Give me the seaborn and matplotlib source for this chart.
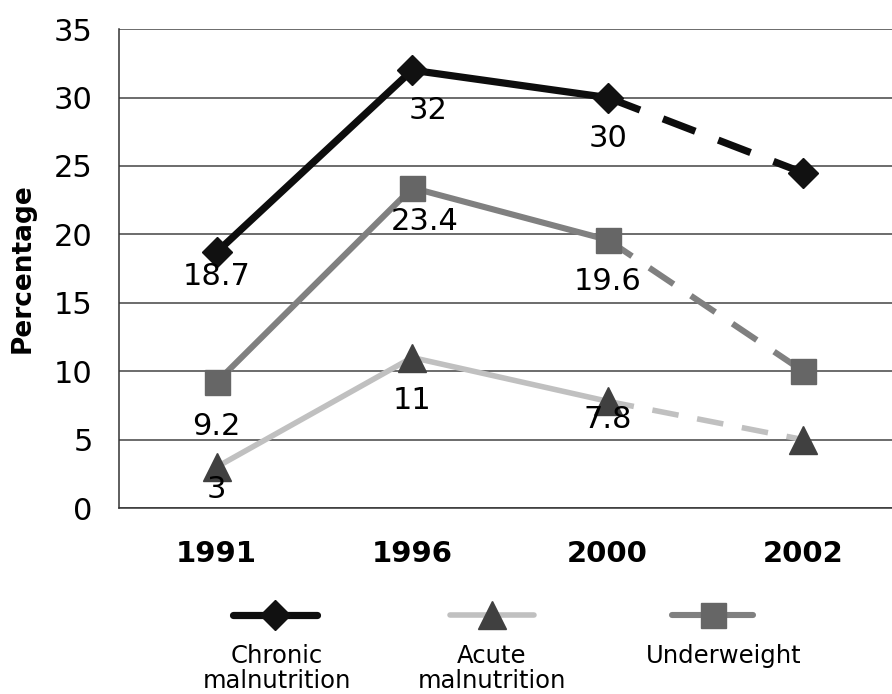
import pandas as pd
import matplotlib.pyplot as plt
import seaborn as sns
from matplotlib.lines import Line2D

years = ['1991', '1996', '2000', '2002']
chronic = [18.7, 32, 30, 24.5]
acute = [3, 11, 7.8, 5]
underweight = [9.2, 23.4, 19.6, 10]

series_names = ['Chronic\nmalnutrition', 'Acute\nmalnutrition', 'Underweight']
series_values = [chronic, acute, underweight]
line_colors = ['#0d0d0d', '#c0c0c0', '#808080']
marker_colors = ['#111111', '#404040', '#666666']
line_widths = [5.2, 4.0, 4.4]
markers = ['D', '^', 's']
marker_sizes = [15, 20, 18]
# label offsets in pixels; the last year is drawn dashed and carries no label
label_dx = [[0, 16, 0], [0, 0, 0], [0, 12, 0]]
label_dy = [[-24, -40, -41], [-23, -43, -18], [-44, -34, -42]]

sns.set_style('white')
plt.rcParams['font.family'] = ['DejaVu Sans']
plt.rcParams.update({'text.color': 'black', 'axes.labelcolor': 'black',
                     'xtick.color': 'black', 'ytick.color': 'black'})

fig = plt.figure(figsize=(8.92, 6.94), dpi=100)
ax = fig.add_axes([0.1334, 0.268, 0.87, 0.69])

for vals, lc, mc, lw, mk, ms, dxs, dys in zip(series_values, line_colors, marker_colors, line_widths,
                                                markers, marker_sizes, label_dx, label_dy):
    df = pd.DataFrame({'x': range(len(years)), 'y': vals})
    sns.lineplot(data=df.iloc[:3], x='x', y='y', color=lc, lw=lw, ax=ax, zorder=3)
    dashed = sns.lineplot(data=df.iloc[2:], x='x', y='y', color=lc, lw=lw, ax=ax, zorder=3)
    dashed.lines[-1].set_dashes((4.8, 3.4))
    ax.plot(df['x'], df['y'], ls='none', marker=mk, ms=ms, color=mc, zorder=4)
    for i in range(3):
        ax.annotate(f'{vals[i]:g}', (i, vals[i]), xytext=(dxs[i], dys[i]), textcoords='offset pixels',
                    ha='center', va='center', fontsize=22, zorder=5)

ax.set_ylim(0, 35)
ax.set_xlim(-0.5, 3.47)
ax.set_yticks(range(0, 36, 5))
ax.set_xticks(range(len(years)))
ax.set_xticklabels(years, fontsize=21, fontweight='bold')
ax.set_xticks([0.5, 1.5, 2.5], minor=True)
ax.tick_params(axis='x', which='major', length=0, pad=23)
ax.tick_params(axis='x', which='minor', length=8, width=1, color='#333333', direction='out')
ax.tick_params(axis='y', labelsize=22, length=8, width=1, color='#333333', direction='out', pad=11)
ax.grid(axis='y', color='#444444', lw=1.1)
ax.set_axisbelow(True)
for s in ['top', 'right']:
    ax.spines[s].set_visible(False)
for s in ['left', 'bottom']:
    ax.spines[s].set_color('#333333')
    ax.spines[s].set_linewidth(1.1)
ax.set_xlabel('')
ax.set_ylabel('Percentage', fontsize=19, fontweight='bold')
ax.yaxis.set_label_coords(-0.108, 0.5)

# legend laid out by hand: handle above, text below
W, H = 892, 694
leg_x = [(233, 317), (450, 534), (672, 753)]
leg_text_x = [277, 492, 724]
for (x0, x1), tx, name, lc, mc, lw, mk, ms in zip(leg_x, leg_text_x, series_names, line_colors,
                                                  marker_colors, line_widths, markers, marker_sizes):
    y = 1 - 615 / H
    fig.add_artist(Line2D([x0 / W, x1 / W], [y, y], color=lc, lw=lw, transform=fig.transFigure))
    fig.add_artist(Line2D([(x0 + x1) / 2 / W], [y], marker=mk, ms=ms, color=mc, ls='none',
                          transform=fig.transFigure))
    fig.text(tx / W, 1 - 644 / H, name, ha='center', va='top', fontsize=17.5, linespacing=1.05)

fig.savefig('out.png', dpi=100)
